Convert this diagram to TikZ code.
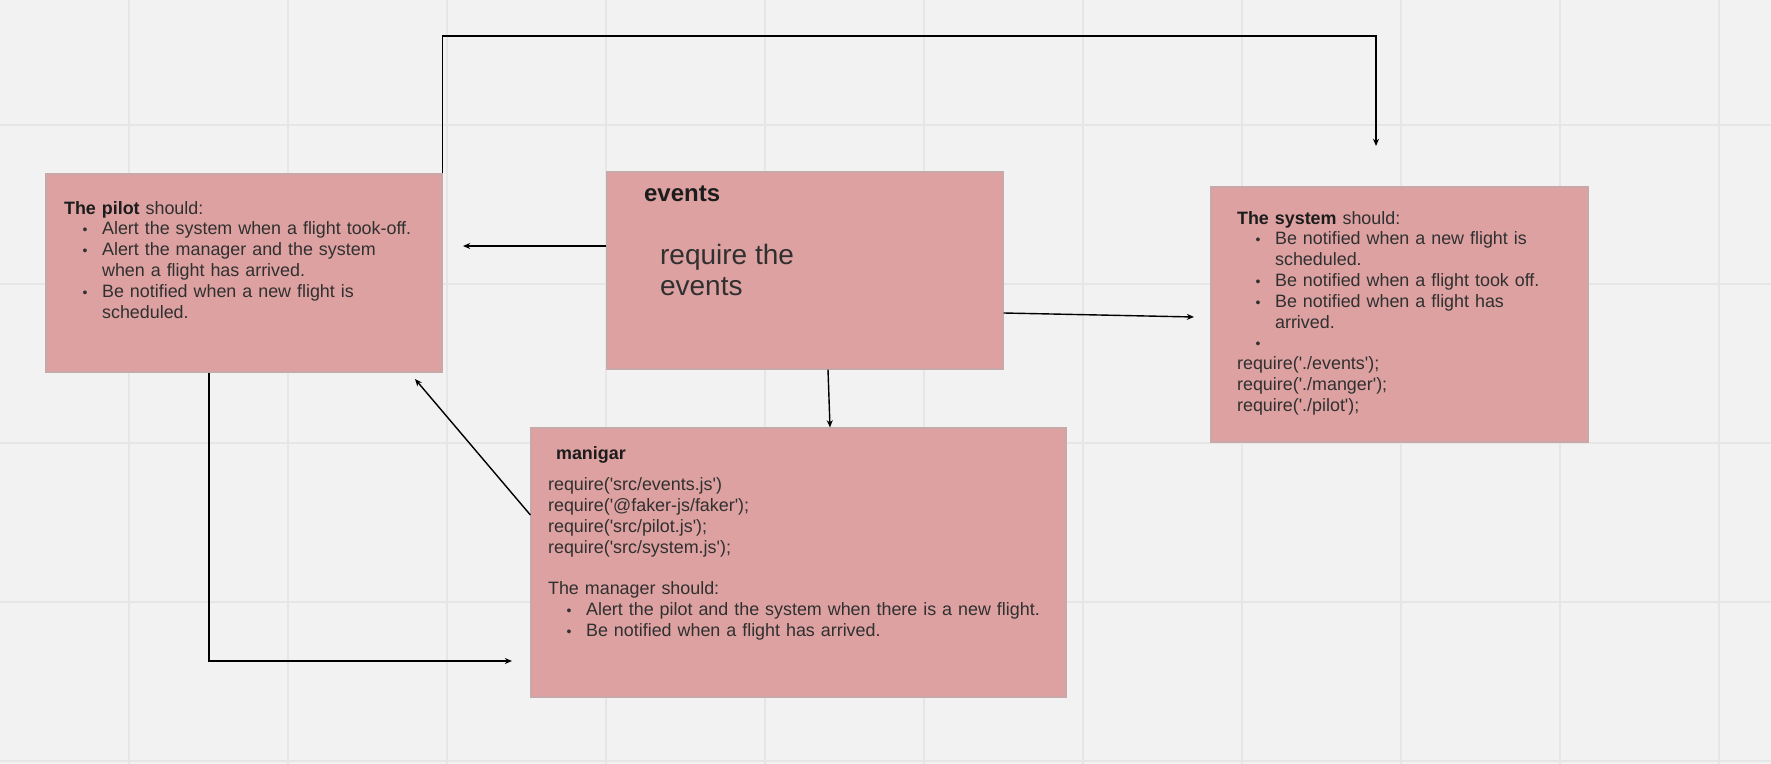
\documentclass[tikz,border=0pt]{standalone}
\usepackage{fontspec}
\setmainfont{Liberation Sans}
\usepackage{enumitem}
\usetikzlibrary{arrows.meta}

\definecolor{boardbg}{HTML}{F2F2F2}
\definecolor{gridline}{HTML}{E6E6E6}
\definecolor{notefill}{HTML}{DDA1A1}
\definecolor{noteedge}{HTML}{C8A8A8}
\definecolor{notetext}{HTML}{303030}
\definecolor{notetitle}{HTML}{1C1C1C}

\setlength{\parindent}{0pt}
\newcommand{\bodyfont}{\fontsize{8.95pt}{10.4pt}\selectfont}
\newcommand{\dotlabel}{{\fontsize{7pt}{7pt}\selectfont\textbullet}}
\newcommand{\sq}{\textquotesingle}
\setlist[itemize]{nosep,leftmargin=19pt,labelsep=7.3pt,label=\dotlabel}

\begin{document}
\begin{tikzpicture}[x=0.5pt,y=-0.5pt,
    note/.style={draw=noteedge, fill=notefill, line width=0.6pt, inner sep=0pt},
    notebody/.style={anchor=north west, inner sep=0pt, align=left, font=\bodyfont, text=notetext},
    notehead/.style={anchor=base west, inner sep=0pt, font=\bfseries\bodyfont, text=notetitle},
    >={Stealth[length=3.6pt,width=3pt]}, every path/.style={line width=0.7pt}]
    % board
    \fill[boardbg] (0,0) rectangle (1771,764);
    \useasboundingbox (0,0) rectangle (1771,764);
    \foreach \gx in {129,288,447,606,765,924,1083,1242,1401,1560,1719}
        \draw[gridline, line width=0.8pt] (\gx,0) -- (\gx,764);
    \foreach \gy in {125,284,443,602,761}
        \draw[gridline, line width=0.8pt] (0,\gy) -- (1771,\gy);

    % Pilot
    \node[note, minimum width=198pt, minimum height=99pt] (pilot) at (244,273) {};
    \node[notebody, text width=180pt] (pilottext) at ([shift={(18,24)}]pilot.north west) {%
        \rule{0pt}{8pt}\textbf{\color{notetitle}The pilot} should:
        \begin{itemize}
            \item Alert the system when a flight took-off.
            \item Alert the manager and the system\newline when a flight has arrived.
            \item Be notified when a new flight is\newline scheduled.
        \end{itemize}};

    % Events
    \node[note, minimum width=198pt, minimum height=98.5pt] (events) at (805,270.5) {};
    \node[notehead, font=\bfseries\fontsize{12pt}{14pt}\selectfont] (eventshead) at ([shift={(37,29.7)}]events.north west) {events};
    \node[notebody, font=\fontsize{14pt}{15.5pt}\selectfont, text=notetext] (eventstext) at ([shift={(53,68)}]events.north west) {%
        \rule{0pt}{12pt}require the\\events};

    % System
    \node[note, minimum width=188.5pt, minimum height=127.5pt] (system) at (1399.5,314.5) {};
    \node[notebody, text width=170pt] (systemtext) at ([shift={(26,21)}]system.north west) {%
        \rule{0pt}{8pt}\textbf{\color{notetitle}The system} should:
        \begin{itemize}
            \item Be notified when a new flight is\newline scheduled.
            \item Be notified when a flight took off.
            \item Be notified when a flight has\newline arrived.
            \item \mbox{}
        \end{itemize}
        require(\sq./events\sq);\\
        require(\sq./manger\sq);\\
        require(\sq./pilot\sq);};

    % Manager
    \node[note, minimum width=267.5pt, minimum height=134.5pt] (manager) at (798.5,562.5) {};
    \node[notehead] (managerhead) at ([shift={(25,32)}]manager.north west) {manigar};
    \node[notebody, text width=255pt] (managertext) at ([shift={(17,46.7)}]manager.north west) {%
        \rule{0pt}{8pt}require(\sq src/events.js\sq)\\
        require(\sq @faker-js/faker\sq);\\
        require(\sq src/pilot.js\sq);\\
        require(\sq src/system.js\sq);\par
        \mbox{}\par
        The manager should:
        \begin{itemize}
            \item Alert the pilot and the system when there is a new flight.
            \item Be notified when a flight has arrived.
        \end{itemize}};

    % Connections
    \coordinate (toprail) at (910,36);
    \coordinate (systop) at (1376,146);
    \coordinate (pilotin) at (463,246);
    \coordinate (sysin) at (1194,317);
    \coordinate (pilotback) at (415,379);
    \coordinate (mgrleft) at (512,661);
    \draw[->] (pilot.north east) |- (toprail) -| (systop);
    \draw[->] (events.west |- pilotin) -- (pilotin);
    \draw[->] ([yshift=-21.25pt]events.east) -- (sysin);
    \draw[->] ([xshift=11.5pt]events.south) -- ([xshift=15.75pt]manager.north);
    \draw[->] ([yshift=23.75pt]manager.west) -- (pilotback);
    \draw[->] ([xshift=-17.5pt]pilot.south) |- (mgrleft);
\end{tikzpicture}
\end{document}
